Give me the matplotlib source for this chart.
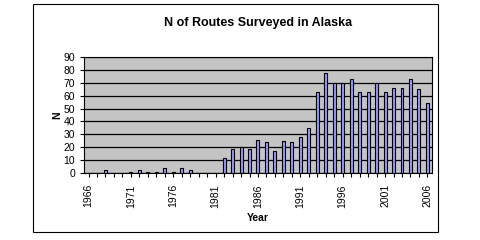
import numpy as np
import matplotlib.pyplot as plt
from matplotlib.patches import Rectangle

plt.rcParams['font.family'] = ['Liberation Sans', 'DejaVu Sans']

# Data
years = np.arange(1966, 2007)
routes = [0, 0, 2, 0, 0, 1, 2, 1, 1, 4,
          1, 4, 2, 0, 0, 0, 12, 19, 20, 19,
          26, 24, 17, 25, 24, 28, 35, 63, 78, 70,
          70, 73, 63, 63, 70, 63, 66, 66, 73, 65,
          54]
tick_years = [1966, 1971, 1976, 1981, 1986, 1991, 1996, 2001, 2006]

fig = plt.figure(figsize=(4.8, 2.4), dpi=100)
ax = fig.add_axes([0.1756, 0.279, 0.7237, 0.4833])

# outer chart border
fig.patches.append(Rectangle((0.069, 0.033), 0.844, 0.95, transform=fig.transFigure,
                             fill=False, edgecolor='black', linewidth=0.8))

ax.set_facecolor('#c4c4c4')
ax.bar(years, routes, width=0.35, color='#9999ff', edgecolor='black', linewidth=0.8, zorder=3)

ax.set_xlim(1965.5, 2006.5)
ax.set_ylim(0, 90)
ax.set_yticks(range(0, 91, 10))
ax.yaxis.grid(True, color='black', linewidth=0.9, zorder=1)
ax.set_xticks(tick_years)
ax.set_xticks(years, minor=True)
ax.set_xticklabels([str(y) for y in tick_years], rotation=90)
ax.tick_params(axis='both', labelsize=7.5, length=3, width=0.8, direction='out')
ax.tick_params(axis='x', which='minor', length=3, width=0.8)
ax.tick_params(axis='x', pad=5)

for s in ax.spines.values():
    s.set_linewidth(0.8)

ax.set_title('N of Routes Surveyed in Alaska', fontsize=9, fontweight='bold', pad=22)
ax.set_ylabel('N', fontsize=7.5, fontweight='bold', labelpad=1)
ax.set_xlabel('Year', fontsize=7.5, fontweight='bold', labelpad=4)

plt.savefig('out.png', dpi=100)
plt.close()
